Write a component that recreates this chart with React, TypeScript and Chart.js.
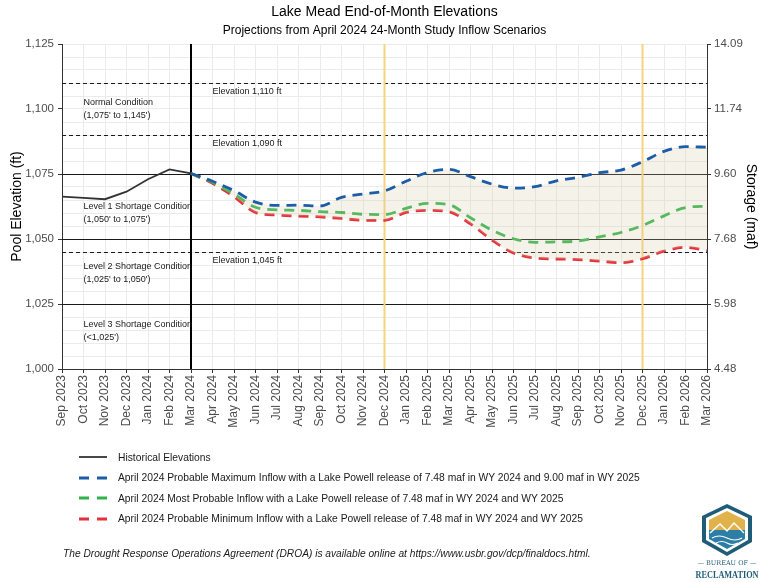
import React, { useEffect, useRef } from 'react';
import { Chart, registerables } from 'chart.js';

Chart.register(...registerables);

const FONT = "'Liberation Sans', Arial, sans-serif";

const months = [
  'Sep 2023', 'Oct 2023', 'Nov 2023', 'Dec 2023', 'Jan 2024', 'Feb 2024', 'Mar 2024',
  'Apr 2024', 'May 2024', 'Jun 2024', 'Jul 2024', 'Aug 2024', 'Sep 2024', 'Oct 2024',
  'Nov 2024', 'Dec 2024', 'Jan 2025', 'Feb 2025', 'Mar 2025', 'Apr 2025', 'May 2025',
  'Jun 2025', 'Jul 2025', 'Aug 2025', 'Sep 2025', 'Oct 2025', 'Nov 2025', 'Dec 2025',
  'Jan 2026', 'Feb 2026', 'Mar 2026',
];

// Historical (Sep 2023 – Mar 2024)
const historical = [1066.3, 1065.8, 1065.3, 1068.2, 1073.0, 1076.8, 1075.2];

// Projections (Mar 2024 – Mar 2026)
const projStart = 'Mar 2024';
const probMax = [
  1075.2, 1072.2, 1068.6, 1064.2, 1062.9, 1063.0, 1062.7, 1066.0, 1067.3, 1068.5,
  1072.2, 1075.6, 1076.8, 1074.0, 1071.1, 1069.6, 1070.1, 1072.4, 1073.7, 1075.5,
  1076.5, 1079.7, 1083.7, 1085.5, 1085.3,
];
const mostProb = [
  1075.2, 1071.8, 1067.3, 1062.2, 1061.2, 1061.0, 1060.5, 1060.2, 1059.5, 1059.4,
  1061.8, 1063.7, 1063.2, 1058.2, 1053.4, 1050.1, 1048.7, 1048.9, 1049.2, 1050.8,
  1052.5, 1055.2, 1058.9, 1062.1, 1062.6,
];
const probMin = [
  1075.2, 1071.4, 1066.3, 1060.2, 1059.2, 1058.8, 1058.5, 1057.9, 1057.2, 1057.2,
  1060.2, 1061.0, 1060.5, 1055.8, 1049.6, 1044.6, 1042.7, 1042.3, 1042.1, 1041.5,
  1040.9, 1042.4, 1045.3, 1046.8, 1045.5,
];

const elevTicks = [1000, 1025, 1050, 1075, 1100, 1125];
const storageTicks = ['4.48', '5.98', '7.68', '9.60', '11.74', '14.09'];

const solidLevels = [1075, 1050, 1025];
const dashedLevels = [1110, 1090, 1045];
const dashedLabels = ['Elevation 1,110 ft', 'Elevation 1,090 ft', 'Elevation 1,045 ft'];

const conditionLabels = [
  ['Normal Condition', "(1,075' to 1,145')"],
  ['Level 1 Shortage Condition', "(1,050' to 1,075')"],
  ['Level 2 Shortage Condition', "(1,025' to 1,050')"],
  ['Level 3 Shortage Condition', "(<1,025')"],
];
const conditionLevels = [1102.6, 1062.4, 1039.4, 1017.3];

const orangeMonths = ['Dec 2024', 'Dec 2025'];
const blackMonth = 'Mar 2024';

const seriesNames = [
  'Historical Elevations',
  'April 2024 Probable Maximum Inflow with a Lake Powell release of 7.48 maf in WY 2024 and 9.00 maf in WY 2025',
  'April 2024 Most Probable Inflow with a Lake Powell release of 7.48 maf in WY 2024 and WY 2025',
  'April 2024 Probable Minimum Inflow with a Lake Powell release of 7.48 maf in WY 2024 and WY 2025',
];
const seriesColors = ['#333333', '#1d5ca6', '#2fb34a', '#e2313b'];
const ribbonColor = 'rgba(214, 203, 165, 0.24)';

const padFrom = (arr: number[], start: number) =>
  months.map((_, i) => (i < start || i - start >= arr.length ? null : arr[i - start]));

const annotationPlugin = {
  id: 'lakeAnnotations',
  beforeDatasetsDraw(chart: any) {
    const { ctx, chartArea: ca, scales } = chart;
    const x = scales.x;
    const y = scales.y;
    ctx.save();
    ctx.strokeStyle = '#1a1a1a';
    ctx.lineWidth = 1;
    solidLevels.forEach((v) => {
      const py = Math.round(y.getPixelForValue(v)) + 0.5;
      ctx.beginPath();
      ctx.moveTo(ca.left, py);
      ctx.lineTo(ca.right, py);
      ctx.stroke();
    });
    ctx.setLineDash([4, 3]);
    dashedLevels.forEach((v) => {
      const py = Math.round(y.getPixelForValue(v)) + 0.5;
      ctx.beginPath();
      ctx.moveTo(ca.left, py);
      ctx.lineTo(ca.right, py);
      ctx.stroke();
    });
    ctx.setLineDash([]);
    ctx.strokeStyle = '#f8d37e';
    ctx.lineWidth = 2;
    orangeMonths.forEach((m) => {
      const px = x.getPixelForValue(months.indexOf(m));
      ctx.beginPath();
      ctx.moveTo(px, ca.top);
      ctx.lineTo(px, ca.bottom);
      ctx.stroke();
    });
    ctx.strokeStyle = '#000';
    ctx.lineWidth = 2;
    const bx = x.getPixelForValue(months.indexOf(blackMonth));
    ctx.beginPath();
    ctx.moveTo(bx, ca.top);
    ctx.lineTo(bx, ca.bottom);
    ctx.stroke();

    ctx.fillStyle = '#1a1a1a';
    ctx.font = `9px ${FONT}`;
    ctx.textAlign = 'left';
    ctx.textBaseline = 'middle';
    const tx = x.getPixelForValue(1);
    conditionLabels.forEach((pair, i) => {
      const py = y.getPixelForValue(conditionLevels[i]);
      ctx.fillText(pair[0], tx, py);
      ctx.fillText(pair[1], tx, py + 13);
    });
    const ex = x.getPixelForValue(months.indexOf(blackMonth) + 1);
    dashedLevels.forEach((v, i) => {
      const py = y.getPixelForValue(v) + 8.5;
      ctx.fillText(dashedLabels[i], ex, py);
    });
    ctx.restore();
  },
  afterDraw(chart: any) {
    const { ctx, chartArea: ca } = chart;
    ctx.save();
    ctx.fillStyle = '#000';
    ctx.textAlign = 'center';
    ctx.textBaseline = 'middle';
    const cx = (ca.left + ca.right) / 2;
    ctx.font = `14px ${FONT}`;
    ctx.fillText('Lake Mead End-of-Month Elevations', cx, 12);
    ctx.font = `12px ${FONT}`;
    ctx.fillText('Projections from April 2024 24-Month Study Inflow Scenarios', cx, 31);
    ctx.restore();
  },
};

function Logo() {
  return (
    <svg width="66" height="80" viewBox="0 0 66 80" style={{ position: 'absolute', left: 694, top: 502 }}>
      <path d="M33 2 L58 14 L58 40 L33 54 L8 40 L8 14 Z" fill="#1f5c78" />
      <path d="M33 6 L54 16 L54 38 L33 50 L12 38 L12 16 Z" fill="#ffffff" />
      <path d="M33 9 L51 18 L51 28 L15 28 L15 18 Z" fill="#e2b24a" />
      <path d="M15 28 L51 28 L51 37 L33 47 L15 37 Z" fill="#2c7ea6" />
      <path d="M16 31 L26 22 L33 29 L40 21 L50 31" stroke="#ffffff" strokeWidth="1.4" fill="none" />
      <path d="M18 36 Q25 32 33 36 T48 36" stroke="#ffffff" strokeWidth="1.2" fill="none" />
      <path d="M22 41 Q28 38 33 41 T44 41" stroke="#ffffff" strokeWidth="1.2" fill="none" />
      <text x="33" y="63" textAnchor="middle" fontFamily="'DejaVu Serif', serif" fontSize="6.5" fill="#1f5c78">— BUREAU OF —</text>
      <text x="33" y="76" textAnchor="middle" fontFamily="'Liberation Serif', serif" fontSize="10.5" fontWeight="bold" fill="#1f5c78" textLength="63" lengthAdjust="spacingAndGlyphs">RECLAMATION</text>
    </svg>
  );
}

function LegendSample({ color, dashed }: { color: string; dashed: boolean }) {
  return (
    <svg width="28" height="6" style={{ display: 'block' }}>
      <line x1="0" y1="3" x2="28" y2="3" stroke={color} strokeWidth={dashed ? 2.8 : 1.8}
        strokeDasharray={dashed ? '10 8' : undefined} />
    </svg>
  );
}

export default function App() {
  const canvasRef = useRef<HTMLCanvasElement | null>(null);

  useEffect(() => {
    if (!canvasRef.current) return;
    const start = months.indexOf(projStart);
    const chart = new Chart(canvasRef.current, {
      type: 'line',
      data: {
        labels: months,
        datasets: [
          {
            label: seriesNames[0],
            data: padFrom(historical, 0),
            borderColor: seriesColors[0],
            borderWidth: 1.8,
            tension: 0,
            fill: false,
          },
          {
            label: seriesNames[1],
            data: padFrom(probMax, start),
            borderColor: seriesColors[1],
            borderWidth: 2.8,
            borderDash: [10, 7],
            cubicInterpolationMode: 'monotone',
            fill: { target: 3, above: ribbonColor, below: ribbonColor },
          },
          {
            label: seriesNames[2],
            data: padFrom(mostProb, start),
            borderColor: seriesColors[2],
            borderWidth: 2.8,
            borderDash: [10, 7],
            cubicInterpolationMode: 'monotone',
            fill: false,
          },
          {
            label: seriesNames[3],
            data: padFrom(probMin, start),
            borderColor: seriesColors[3],
            borderWidth: 2.8,
            borderDash: [10, 7],
            cubicInterpolationMode: 'monotone',
            fill: false,
          },
        ],
      } as any,
      options: {
        responsive: false,
        animation: false,
        layout: { padding: { top: 44, bottom: 582 - 369 - 62, left: 0, right: 0 } },
        elements: { point: { radius: 0 } },
        plugins: {
          legend: { display: false },
          tooltip: { enabled: false },
          title: { display: false },
        },
        scales: {
          x: {
            type: 'category',
            offset: false,
            grid: { color: '#ebebeb', lineWidth: 1, tickLength: 4, tickColor: '#333' },
            border: { display: true, color: '#333', width: 1 },
            ticks: {
              autoSkip: false,
              maxRotation: 90,
              minRotation: 90,
              padding: 2,
              color: '#4d4d4d',
              font: { family: FONT, size: 12 },
            },
            afterFit: (s: any) => { s.height = 62; },
          },
          y: {
            position: 'left',
            min: 1000,
            max: 1125,
            grid: {
              color: '#ebebeb',
              lineWidth: 1,
              tickLength: 4,
              tickColor: (c: any) => (c.tick && c.tick.value % 25 === 0 ? '#333' : 'rgba(0,0,0,0)'),
            },
            border: { display: true, color: '#333', width: 1 },
            ticks: {
              stepSize: 5,
              autoSkip: false,
              padding: 4,
              color: '#4d4d4d',
              font: { family: FONT, size: 11.5 },
              callback: (v: any) => (Number(v) % 25 === 0 ? Number(v).toLocaleString('en-US') : ''),
            },
            title: {
              display: true,
              text: 'Pool Elevation (ft)',
              color: '#000',
              font: { family: FONT, size: 14 },
              padding: { top: 9, bottom: 0 },
            },
            afterFit: (s: any) => { s.width = 62; },
          },
          y2: {
            position: 'right',
            min: 1000,
            max: 1125,
            grid: { drawOnChartArea: false, tickLength: 4, color: '#333' },
            border: { display: true, color: '#333', width: 1 },
            ticks: {
              stepSize: 25,
              autoSkip: false,
              padding: 3,
              color: '#4d4d4d',
              font: { family: FONT, size: 11.5 },
              callback: (v: any) => {
                const i = elevTicks.indexOf(Number(v));
                return i >= 0 ? storageTicks[i] : '';
              },
            },
            title: {
              display: true,
              text: 'Storage (maf)',
              color: '#000',
              font: { family: FONT, size: 14 },
              padding: { top: 0, bottom: 0 },
            },
            afterFit: (s: any) => { s.width = 52; },
          },
        },
      } as any,
      plugins: [annotationPlugin],
    });
    return () => chart.destroy();
  }, []);

  const rowTops = [457, 477.5, 498, 518.5];

  return (
    <div style={{ position: 'fixed', left: 0, top: 0, width: 759, height: 582, background: '#fff', overflow: 'hidden' }}>
      <canvas ref={canvasRef} width={759} height={582} style={{ position: 'absolute', left: 0, top: 0 }} />
      {seriesNames.map((name, i) => (
        <div key={name} style={{ position: 'absolute', left: 79, top: rowTops[i] - 8, height: 16, display: 'flex', alignItems: 'center' }}>
          <LegendSample color={seriesColors[i]} dashed={i > 0} />
          <span style={{ marginLeft: 11, fontFamily: FONT, fontSize: 10.3, color: '#1a1a1a', whiteSpace: 'nowrap' }}>{name}</span>
        </div>
      ))}
      <div style={{ position: 'absolute', left: 63, top: 548, fontFamily: FONT, fontSize: 10.2, fontStyle: 'italic', color: '#1a1a1a', whiteSpace: 'nowrap' }}>
        The Drought Response Operations Agreement (DROA) is available online at https://www.usbr.gov/dcp/finaldocs.html.
      </div>
      <Logo />
    </div>
  );
}
